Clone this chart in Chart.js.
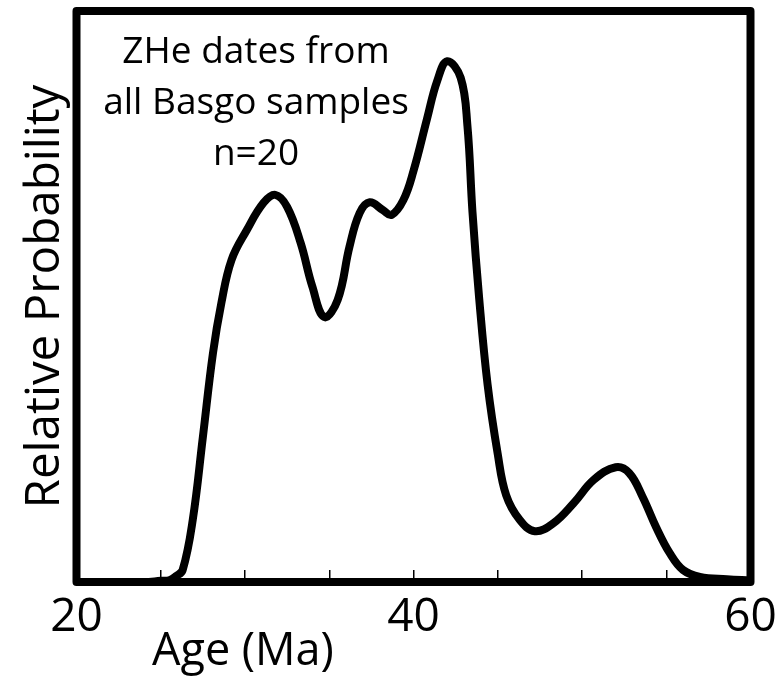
<!DOCTYPE html>
<html lang="en">
<head>
    <meta charset="UTF-8">
    <title>ZHe dates - Basgo</title>
    <script src="https://cdn.jsdelivr.net/npm/chart.js"></script>
    <style>
        body {
            margin: 0;
            padding: 0;
            background: #ffffff;
        }

        .chart-wrap {
            width: 782px;
            height: 686px;
        }
    </style>
</head>
<body>
    <div class="chart-wrap">
        <canvas id="pdfChart"></canvas>
    </div>

    <script>
        // age (Ma) and relative probability
        const ages = [20, 24, 25, 25.5, 25.9, 26.3, 26.9, 27.5, 28.1, 28.6,
            29.2, 30.1, 31.1, 31.8, 32.5, 33.3, 34.0, 34.7, 35.5, 36.2,
            36.8, 37.4, 38.2, 38.7, 39.4, 40.0, 40.8, 41.4, 42.0, 42.8,
            43.2, 43.5, 43.9, 44.4, 45.0, 45.5, 46.3, 47.2, 48.3, 49.5,
            50.7, 52.0, 52.8, 53.6, 54.4, 55.2, 56.0, 57.0, 58.6, 60];
        const probability = [0, 0, 0.2, 0.3, 1.0, 2.1, 10.9, 25.4, 40.1, 48.9,
            56.4, 61.6, 66.4, 67.8, 65.7, 59.4, 51.7, 46.4, 49.4, 58.7,
            64.6, 66.5, 65.1, 64.3, 66.9, 72.0, 81.1, 87.7, 91.2, 88.3,
            79.9, 64.8, 49.6, 34.5, 22.4, 15.2, 10.9, 8.9, 10.3, 13.8,
            17.9, 20.1, 19.1, 14.9, 9.6, 5.1, 2.1, 0.9, 0.5, 0.3];
        const labelledTicks = [20, 40, 60];
        const noteLines = ['ZHe dates from', 'all Basgo samples', 'n=20'];
        const xTitle = 'Age (Ma)';
        const yTitle = 'Relative Probability';

        const FONT = "'Open Sans', 'Noto Sans', sans-serif";

        // thick frame round the plot area
        const framePlugin = {
            id: 'frame',
            afterDatasetsDraw(chart) {
                const { ctx, chartArea } = chart;
                ctx.save();
                ctx.strokeStyle = '#000';
                ctx.lineWidth = 8;
                ctx.lineJoin = 'round';
                ctx.strokeRect(chartArea.left, chartArea.top,
                    chartArea.right - chartArea.left, chartArea.bottom - chartArea.top);
                ctx.restore();
            }
        };

        // note inside the plot and the x axis title
        const textPlugin = {
            id: 'texts',
            afterDraw(chart) {
                const { ctx, chartArea } = chart;
                ctx.save();
                ctx.fillStyle = '#000';
                ctx.textAlign = 'center';
                ctx.textBaseline = 'alphabetic';
                ctx.font = '37px ' + FONT;
                noteLines.forEach((line, i) => {
                    ctx.fillText(line, chartArea.left + 179.5, chartArea.top + 52 + i * 51);
                });
                ctx.font = '45px ' + FONT;
                ctx.textAlign = 'left';
                ctx.fillText(xTitle, 152, chartArea.bottom + 83);
                ctx.restore();
            }
        };

        const ctx = document.getElementById('pdfChart').getContext('2d');

        new Chart(ctx, {
            type: 'line',
            data: {
                datasets: [{
                    data: ages.map((a, i) => ({ x: a, y: probability[i] })),
                    borderColor: '#000',
                    borderWidth: 8,
                    pointRadius: 0,
                    fill: false,
                    tension: 0.4
                }]
            },
            options: {
                responsive: true,
                maintainAspectRatio: false,
                animation: false,
                layout: {
                    padding: { top: 11, right: 31.5, left: 0, bottom: 0 }
                },
                plugins: {
                    legend: { display: false },
                    tooltip: { enabled: false }
                },
                scales: {
                    x: {
                        type: 'linear',
                        min: 20,
                        max: 60,
                        afterFit(scale) {
                            scale.height = 104;
                            scale.paddingLeft = 0;
                            scale.paddingRight = 0;
                        },
                        border: { display: false },
                        grid: {
                            drawOnChartArea: false,
                            color: '#000',
                            lineWidth: 1.5,
                            tickLength: -12
                        },
                        ticks: {
                            stepSize: 5,
                            autoSkip: false,
                            maxRotation: 0,
                            padding: 20,
                            color: '#000',
                            font: { family: FONT, size: 46 },
                            callback: v => labelledTicks.includes(v) ? String(v) : ''
                        }
                    },
                    y: {
                        min: 0,
                        max: 100,
                        afterFit(scale) { scale.width = 76.5; },
                        border: { display: false },
                        grid: { display: false },
                        ticks: { display: false },
                        title: {
                            display: true,
                            text: yTitle,
                            color: '#000',
                            font: { family: FONT, size: 47.5 },
                            padding: { top: 17, bottom: 0 }
                        }
                    }
                }
            },
            plugins: [framePlugin, textPlugin]
        });
    </script>
</body>
</html>
